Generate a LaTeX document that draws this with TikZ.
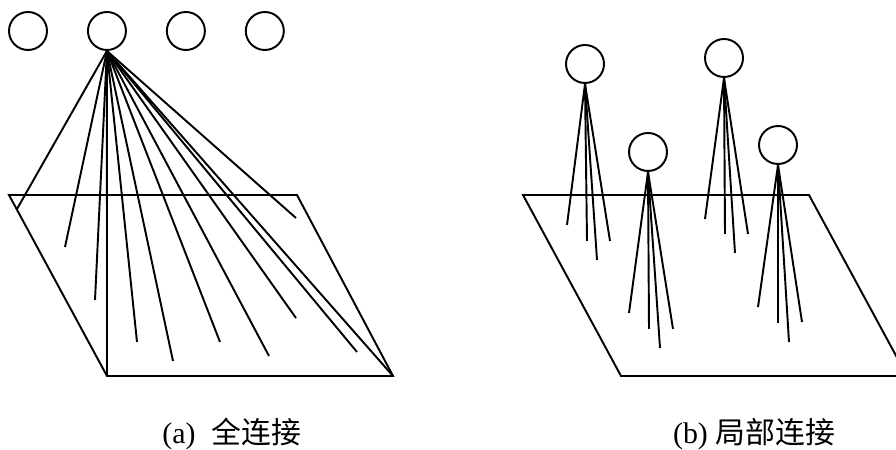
\documentclass[tikz,border=0pt]{standalone}
\usepackage{fontspec}
\setmainfont{Liberation Serif}
\newfontfamily\cjkfont{Noto Sans CJK SC}
\usetikzlibrary{positioning}

\begin{document}
\begin{tikzpicture}[
    x=0.2mm, y=-0.2mm,
    node distance=7.8mm,
    line width=1.1pt,
    neuron/.style={
        draw, circle,
        minimum size=7.6mm,
        inner sep=0pt
    },
    link/.style={line width=1.1pt},
    plane/.style={line width=1.1pt, line join=miter},
    caption/.style={font=\fontsize{17}{20}\selectfont}
]
\clip (0,0) rectangle (896,450);

% (a) full connection: neurons
\node[neuron] at (28,31) (n1) {};
\node[neuron, right=of n1] (n2) {};
\node[neuron, right=of n2] (n3) {};
\node[neuron, right=of n3] (n4) {};

% (a) input plane
\coordinate (pa-nw) at (9,195);
\coordinate (pa-ne) at (297,195);
\coordinate (pa-se) at (393,376);
\coordinate (pa-sw) at (107,376);
\draw[plane] (pa-nw) -- (pa-ne) -- (pa-se) -- (pa-sw) -- cycle;

% (a) end points of the links
\coordinate (fa1)  at (17,209);
\coordinate (fa2)  at (65,247);
\coordinate (fa3)  at (95,300);
\coordinate (fa5)  at (137,342);
\coordinate (fa6)  at (173,361);
\coordinate (fa7)  at (220,342);
\coordinate (fa8)  at (269,356);
\coordinate (fa9)  at (296,318);
\coordinate (fa10) at (357,352);
\coordinate (fa12) at (296,218);

% (a) links
\draw[link] (n2.south) -- (fa1);
\draw[link] (n2.south) -- (fa2);
\draw[link] (n2.south) -- (fa3);
\draw[link] (n2.south) -- (pa-sw);
\draw[link] (n2.south) -- (fa5);
\draw[link] (n2.south) -- (fa6);
\draw[link] (n2.south) -- (fa7);
\draw[link] (n2.south) -- (fa8);
\draw[link] (n2.south) -- (fa9);
\draw[link] (n2.south) -- (fa10);
\draw[link] (n2.south) -- (pa-se);
\draw[link] (n2.south) -- (fa12);

% (b) local connection: neurons
\node[neuron] at (585,64)  (m1) {};
\node[neuron] at (648,152) (m2) {};
\node[neuron] at (724,58)  (m3) {};
\node[neuron] at (778,145) (m4) {};

% (b) input plane
\coordinate (pb-nw) at (523,195);
\coordinate (pb-ne) at (809,195);
\coordinate (pb-se) at (907,376);
\coordinate (pb-sw) at (621,376);
\draw[plane] (pb-nw) -- (pb-ne) -- (pb-se) -- (pb-sw) -- cycle;

% (b) end points of the links
\coordinate (g1a) at (567,225);
\coordinate (g1b) at (587,241);
\coordinate (g1c) at (597,260);
\coordinate (g1d) at (610,241);
\coordinate (g2a) at (629,313);
\coordinate (g2b) at (649,329);
\coordinate (g2c) at (660,348);
\coordinate (g2d) at (673,329);
\coordinate (g3a) at (705,219);
\coordinate (g3b) at (725,234);
\coordinate (g3c) at (735,253);
\coordinate (g3d) at (748,234);
\coordinate (g4a) at (758,307);
\coordinate (g4b) at (778,323);
\coordinate (g4c) at (789,342);
\coordinate (g4d) at (802,322);

% (b) links
\draw[link] (m1.south) -- (g1a);
\draw[link] (m1.south) -- (g1b);
\draw[link] (m1.south) -- (g1c);
\draw[link] (m1.south) -- (g1d);
\draw[link] (m2.south) -- (g2a);
\draw[link] (m2.south) -- (g2b);
\draw[link] (m2.south) -- (g2c);
\draw[link] (m2.south) -- (g2d);
\draw[link] (m3.south) -- (g3a);
\draw[link] (m3.south) -- (g3b);
\draw[link] (m3.south) -- (g3c);
\draw[link] (m3.south) -- (g3d);
\draw[link] (m4.south) -- (g4a);
\draw[link] (m4.south) -- (g4b);
\draw[link] (m4.south) -- (g4c);
\draw[link] (m4.south) -- (g4d);

% Captions
\node[caption] at (232,434) (capA) {(a)\hspace{0.55em}{\cjkfont 全连接}};
\node[caption] at (754,434) (capB) {(b) {\cjkfont 局部连接}};

\end{tikzpicture}
\end{document}
